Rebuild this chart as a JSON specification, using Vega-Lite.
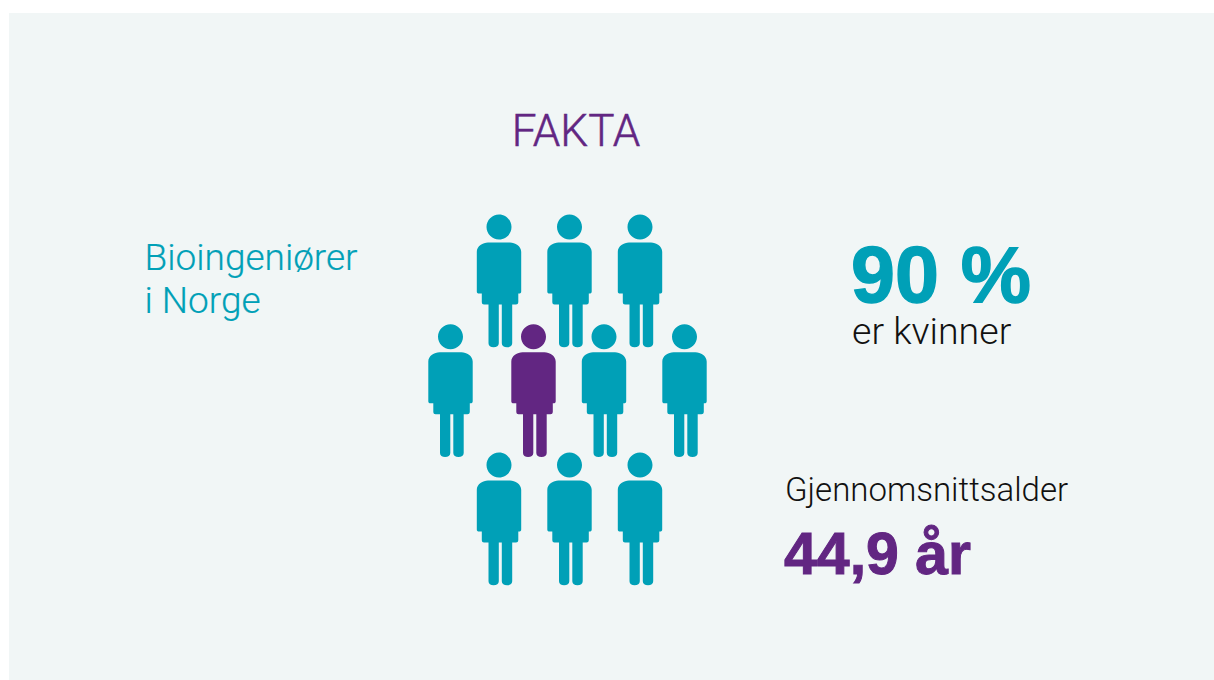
{
"$schema":"https://vega.github.io/schema/vega-lite/v6.json",
"width":1205,"height":667,"autosize":"none",
"padding":{"left":9,"top":13,"right":0,"bottom":0},
"background":"#ffffff",
"view":{"fill":"#f1f6f6","stroke":null},
"config":{"axis":{"disable":true}},
"encoding":{
"x":{"field":"x","type":"quantitative","scale":{"domain":[9,1214],"nice":false,"zero":false},"axis":null},
"y":{"field":"y","type":"quantitative","scale":{"domain":[680,13],"nice":false,"zero":false},"axis":null}
},
"layer":[
{"data":{"values":[
{"x":499,"y":280.8,"gruppe":"kvinner"},{"x":569.5,"y":280.8,"gruppe":"kvinner"},{"x":640,"y":280.8,"gruppe":"kvinner"},
{"x":450.5,"y":390.5,"gruppe":"kvinner"},{"x":533.5,"y":390.5,"gruppe":"menn"},{"x":604,"y":390.5,"gruppe":"kvinner"},{"x":684.5,"y":390.5,"gruppe":"kvinner"},
{"x":499,"y":518.8,"gruppe":"kvinner"},{"x":569.5,"y":518.8,"gruppe":"kvinner"},{"x":640,"y":518.8,"gruppe":"kvinner"}
]},
"mark":{"type":"point","filled":true,"opacity":1,"size":4,"strokeWidth":0,
"shape":"M-12.5,-53.8A12.5,12.5,0,1,1,12.5,-53.8A12.5,12.5,0,1,1,-12.5,-53.8Z M-11,-38.2L11,-38.2C16,-38.2,22.2,-34.5,22.2,-29L22.2,10.8C22.2,12.2,21.4,12.8,20,12.8L19.3,12.8L19.3,21.3C19.3,23,18.3,23.8,17,23.8L13.2,23.8L13.2,62.5C13.2,65,11,66.5,8,66.5C5,66.5,2.8,65,2.8,62.5L2.8,23.8L-0.2,23.8L-0.2,62.5C-0.2,65,-2.4,66.5,-5.4,66.5C-8.4,66.5,-10.5,65,-10.5,62.5L-10.5,23.8L-15,23.8C-16.3,23.8,-17.2,23,-17.2,21.3L-17.2,12.8L-20,12.8C-21.4,12.8,-22.2,12.2,-22.2,10.8L-22.2,-29C-22.2,-34.5,-16,-38.2,-11,-38.2Z"},
"encoding":{"color":{"field":"gruppe","type":"nominal","scale":{"domain":["kvinner","menn"],"range":["#00a0b7","#622682"]},"legend":null}}},
{"data":{"values":[{"x":576,"y":145.5,"t":"FAKTA"}]},"mark":{"type":"text","align":"center","baseline":"alphabetic","font":"Roboto","fontWeight":300,"fontSize":44,"fill":"#622682","stroke":"#622682","strokeWidth":0.5},"encoding":{"text":{"field":"t"}}},
{"data":{"values":[{"x":144.5,"y":270,"t":"Bioingeniører"},{"x":144.5,"y":313,"t":"i Norge"}]},"mark":{"type":"text","align":"left","baseline":"alphabetic","font":"Roboto","fontWeight":300,"fontSize":37,"fill":"#00a0b7","stroke":"#00a0b7","strokeWidth":0.2},"encoding":{"text":{"field":"t"}}},
{"data":{"values":[{"x":851,"y":302,"t":"90 %"}]},"mark":{"type":"text","align":"left","baseline":"alphabetic","font":"Liberation Sans","fontWeight":"bold","fontSize":79,"fill":"#00a0b7","stroke":"#00a0b7","strokeWidth":1.4},"encoding":{"text":{"field":"t"}}},
{"data":{"values":[{"x":852,"y":344,"t":"er kvinner"}]},"mark":{"type":"text","align":"left","baseline":"alphabetic","font":"Roboto","fontWeight":300,"fontSize":37.5,"fill":"#111111"},"encoding":{"text":{"field":"t"}}},
{"data":{"values":[{"x":785,"y":501,"t":"Gjennomsnittsalder"}]},"mark":{"type":"text","align":"left","baseline":"alphabetic","font":"Roboto","fontWeight":300,"fontSize":33,"fill":"#111111"},"encoding":{"text":{"field":"t"}}},
{"data":{"values":[{"x":784,"y":574,"t":"44,9 år"}]},"mark":{"type":"text","align":"left","baseline":"alphabetic","font":"Liberation Sans","fontWeight":"bold","fontSize":59,"fill":"#622682","stroke":"#622682","strokeWidth":1},"encoding":{"text":{"field":"t"}}}
]
}
